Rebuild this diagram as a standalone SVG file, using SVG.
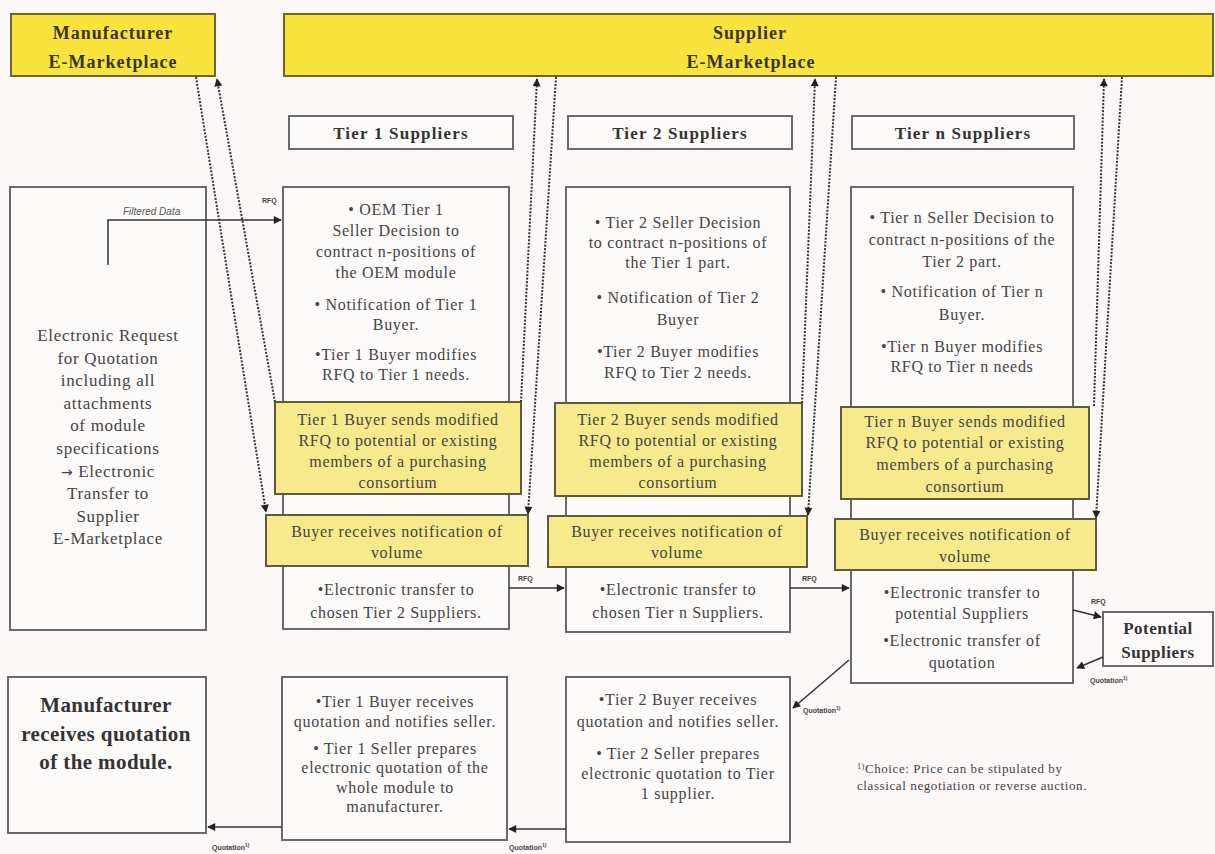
<svg xmlns="http://www.w3.org/2000/svg" width="1215" height="854" viewBox="0 0 1215 854">
<defs>
<style>
.bg{fill:#fcf8f8}
.top{fill:#f8e43c;stroke:#6e6430;stroke-width:2}
.box{fill:#fdfafa;stroke:#6a6a6a;stroke-width:2}
.yel{fill:#f6ea8c;stroke:#5e5a3a;stroke-width:2}
.t{font-family:"Liberation Serif","Times New Roman",serif;font-size:16px;fill:#444;text-anchor:middle;letter-spacing:0.7px}
.tl{font-family:"Liberation Serif","Times New Roman",serif;font-size:17px;fill:#444;text-anchor:middle;letter-spacing:0.7px}
.hb{font-family:"Liberation Serif","Times New Roman",serif;font-size:18px;font-weight:bold;fill:#3a3320;text-anchor:middle;letter-spacing:1px}
.th{font-family:"Liberation Serif","Times New Roman",serif;font-size:17px;font-weight:bold;fill:#333;text-anchor:middle;letter-spacing:1.2px}
.big{font-family:"Liberation Serif","Times New Roman",serif;font-size:21px;font-weight:bold;fill:#333;text-anchor:middle;letter-spacing:0.4px}
.ps{font-family:"Liberation Serif","Times New Roman",serif;font-size:17px;font-weight:bold;fill:#333;text-anchor:middle;letter-spacing:0.5px}
.fn{font-family:"Liberation Serif","Times New Roman",serif;font-size:13px;fill:#444;letter-spacing:0.6px}
.sm{font-family:"Liberation Sans",Arial,sans-serif;font-size:7px;font-weight:bold;fill:#444}
.fd{font-family:"Liberation Sans",Arial,sans-serif;font-size:10px;font-style:italic;fill:#555}
.ln{fill:none;stroke:#333;stroke-width:1.5}
.dl{fill:none;stroke:#333;stroke-width:2;stroke-dasharray:2 1.5}
</style>
<marker id="ah" viewBox="0 0 10 10" refX="9" refY="5" markerWidth="9" markerHeight="8" markerUnits="userSpaceOnUse" orient="auto">
<path d="M0,0 L10,5 L0,10 Z" fill="#222"/>
</marker>
</defs>
<rect class="bg" x="0" y="0" width="1215" height="854"/>

<g id="manufacturer-emarketplace">
<rect class="top" x="11" y="14" width="204" height="62"/>
<text class="hb" x="113" y="39">Manufacturer</text>
<text class="hb" x="113" y="68">E-Marketplace</text>
</g>
<g id="supplier-emarketplace">
<rect class="top" x="284" y="14" width="929" height="62"/>
<text class="hb" x="750" y="39">Supplier</text>
<text class="hb" x="751" y="68">E-Marketplace</text>
</g>

<g id="tier1-header">
<rect class="box" x="289" y="116" width="224" height="33"/>
<text class="th" x="401" y="139">Tier 1 Suppliers</text>
</g>
<g id="tier2-header">
<rect class="box" x="568" y="116" width="224" height="33"/>
<text class="th" x="680" y="139">Tier 2 Suppliers</text>
</g>
<g id="tiern-header">
<rect class="box" x="852" y="116" width="222" height="33"/>
<text class="th" x="963" y="139">Tier n Suppliers</text>
</g>

<g id="electronic-rfq">
<rect class="box" x="10" y="187" width="196" height="443"/>
<text class="tl" x="108" y="341">Electronic Request</text>
<text class="tl" x="108" y="363.6">for Quotation</text>
<text class="tl" x="108" y="386.2">including all</text>
<text class="tl" x="108" y="408.8">attachments</text>
<text class="tl" x="108" y="431.4">of module</text>
<text class="tl" x="108" y="454">specifications</text>
<text class="tl" x="108" y="476.6"><tspan font-family="DejaVu Sans, sans-serif" font-size="14">→</tspan> Electronic</text>
<text class="tl" x="108" y="499.2">Transfer to</text>
<text class="tl" x="108" y="521.8">Supplier</text>
<text class="tl" x="108" y="544.4">E-Marketplace</text>
</g>

<g id="tier1-main">
<rect class="box" x="283" y="187" width="226" height="442"/>
<text class="t" x="396" y="215">• OEM Tier 1</text>
<text class="t" x="396" y="236">Seller Decision to</text>
<text class="t" x="396" y="257">contract n-positions of</text>
<text class="t" x="396" y="278">the OEM module</text>
<text class="t" x="396" y="310">• Notification of Tier 1</text>
<text class="t" x="396" y="330">Buyer.</text>
<text class="t" x="396" y="360">•Tier 1 Buyer modifies</text>
<text class="t" x="396" y="380">RFQ to Tier 1 needs.</text>
<text class="t" x="396" y="595">•Electronic transfer to</text>
<text class="t" x="396" y="618">chosen Tier 2 Suppliers.</text>
</g>
<g id="tier1-sends">
<rect class="yel" x="275" y="402" width="246" height="92"/>
<text class="t" x="398" y="425">Tier 1 Buyer sends modified</text>
<text class="t" x="398" y="446">RFQ to potential or existing</text>
<text class="t" x="398" y="467">members of a purchasing</text>
<text class="t" x="398" y="488">consortium</text>
</g>
<g id="tier1-volume">
<rect class="yel" x="266" y="515" width="262" height="51"/>
<text class="t" x="397" y="537">Buyer receives notification of</text>
<text class="t" x="397" y="558">volume</text>
</g>

<g id="tier2-main">
<rect class="box" x="566" y="187" width="224" height="445"/>
<text class="t" x="678" y="228">• Tier 2 Seller Decision</text>
<text class="t" x="678" y="248">to contract n-positions of</text>
<text class="t" x="678" y="268">the Tier 1 part.</text>
<text class="t" x="678" y="303">• Notification of Tier 2</text>
<text class="t" x="678" y="325">Buyer</text>
<text class="t" x="678" y="357">•Tier 2 Buyer modifies</text>
<text class="t" x="678" y="378">RFQ to Tier 2 needs.</text>
<text class="t" x="678" y="595">•Electronic transfer to</text>
<text class="t" x="678" y="618">chosen Tier n Suppliers.</text>
</g>
<g id="tier2-sends">
<rect class="yel" x="555" y="403" width="247" height="93"/>
<text class="t" x="678" y="425">Tier 2 Buyer sends modified</text>
<text class="t" x="678" y="446">RFQ to potential or existing</text>
<text class="t" x="678" y="467">members of a purchasing</text>
<text class="t" x="678" y="488">consortium</text>
</g>
<g id="tier2-volume">
<rect class="yel" x="548" y="516" width="259" height="51"/>
<text class="t" x="677" y="537">Buyer receives notification of</text>
<text class="t" x="677" y="558">volume</text>
</g>

<g id="tiern-main">
<rect class="box" x="851" y="187" width="222" height="496"/>
<text class="t" x="962" y="223">• Tier n Seller Decision to</text>
<text class="t" x="962" y="245">contract n-positions of the</text>
<text class="t" x="962" y="267">Tier 2 part.</text>
<text class="t" x="962" y="297">• Notification of Tier n</text>
<text class="t" x="962" y="320">Buyer.</text>
<text class="t" x="962" y="352">•Tier n Buyer modifies</text>
<text class="t" x="962" y="372">RFQ to Tier n needs</text>
<text class="t" x="962" y="598">•Electronic transfer to</text>
<text class="t" x="962" y="619">potential Suppliers</text>
<text class="t" x="962" y="646">•Electronic transfer of</text>
<text class="t" x="962" y="668">quotation</text>
</g>
<g id="tiern-sends">
<rect class="yel" x="841" y="407" width="248" height="92"/>
<text class="t" x="965" y="427">Tier n Buyer sends modified</text>
<text class="t" x="965" y="448">RFQ to potential or existing</text>
<text class="t" x="965" y="470">members of a purchasing</text>
<text class="t" x="965" y="492">consortium</text>
</g>
<g id="tiern-volume">
<rect class="yel" x="835" y="519" width="261" height="51"/>
<text class="t" x="965" y="540">Buyer receives notification of</text>
<text class="t" x="965" y="562">volume</text>
</g>

<g id="potential-suppliers">
<rect class="box" x="1103" y="612" width="110" height="54"/>
<text class="ps" x="1158" y="634">Potential</text>
<text class="ps" x="1158" y="658">Suppliers</text>
</g>

<g id="manufacturer-receives">
<rect class="box" x="8" y="677" width="198" height="156"/>
<text class="big" x="106" y="712">Manufacturer</text>
<text class="big" x="106" y="741">receives quotation</text>
<text class="big" x="106" y="769">of the module.</text>
</g>
<g id="tier1-quotation">
<rect class="box" x="282" y="677" width="225" height="163"/>
<text class="t" x="395" y="707">•Tier 1 Buyer receives</text>
<text class="t" x="395" y="727">quotation and notifies seller.</text>
<text class="t" x="395" y="754">• Tier 1 Seller prepares</text>
<text class="t" x="395" y="773">electronic quotation of the</text>
<text class="t" x="395" y="793">whole module to</text>
<text class="t" x="395" y="812">manufacturer.</text>
</g>
<g id="tier2-quotation">
<rect class="box" x="566" y="677" width="224" height="165"/>
<text class="t" x="678" y="705">•Tier 2 Buyer receives</text>
<text class="t" x="678" y="727">quotation and notifies seller.</text>
<text class="t" x="678" y="759">• Tier 2 Seller prepares</text>
<text class="t" x="678" y="779">electronic quotation to Tier</text>
<text class="t" x="678" y="799">1 supplier.</text>
</g>

<g id="footnote">
<text class="fn" x="857" y="773"><tspan font-size="8" dy="-4">1)</tspan><tspan dy="4">Choice: Price can be stipulated by</tspan></text>
<text class="fn" x="857" y="790">classical negotiation or reverse auction.</text>
</g>

<g id="connectors">
<path class="ln" d="M108,265 V220 H281" marker-end="url(#ah)"/>
<text class="fd" x="123" y="215">Filtered Data</text>
<text class="sm" x="262" y="203">RFQ</text>

<path class="dl" d="M196,77 L266,512" marker-end="url(#ah)"/>
<path class="dl" d="M275,402 L217,79" marker-end="url(#ah)"/>
<path class="dl" d="M521,402 L537,79" marker-end="url(#ah)"/>
<path class="dl" d="M556,77 L528,514" marker-end="url(#ah)"/>
<path class="dl" d="M802,403 L815,79" marker-end="url(#ah)"/>
<path class="dl" d="M836,77 L808,515" marker-end="url(#ah)"/>
<path class="dl" d="M1094,406 L1104,79" marker-end="url(#ah)"/>
<path class="dl" d="M1122,77 L1096,518" marker-end="url(#ah)"/>

<path class="ln" d="M509,588 H564" marker-end="url(#ah)"/>
<text class="sm" x="518" y="581">RFQ</text>
<path class="ln" d="M790,588 H849" marker-end="url(#ah)"/>
<text class="sm" x="802" y="581">RFQ</text>
<path class="ln" d="M1073,610 L1101,617" marker-end="url(#ah)"/>
<text class="sm" x="1091" y="604">RFQ</text>
<path class="ln" d="M1103,657 L1077,668" marker-end="url(#ah)"/>
<text class="sm" x="1090" y="683">Quotation<tspan font-size="5" dy="-3">1)</tspan></text>
<path class="ln" d="M849,660 L793,708" marker-end="url(#ah)"/>
<text class="sm" x="803" y="713">Quotation<tspan font-size="5" dy="-3">1)</tspan></text>
<path class="ln" d="M566,829 H509" marker-end="url(#ah)"/>
<text class="sm" x="509" y="850">Quotation<tspan font-size="5" dy="-3">1)</tspan></text>
<path class="ln" d="M282,827 H208" marker-end="url(#ah)"/>
<text class="sm" x="212" y="850">Quotation<tspan font-size="5" dy="-3">1)</tspan></text>
</g>
</svg>
